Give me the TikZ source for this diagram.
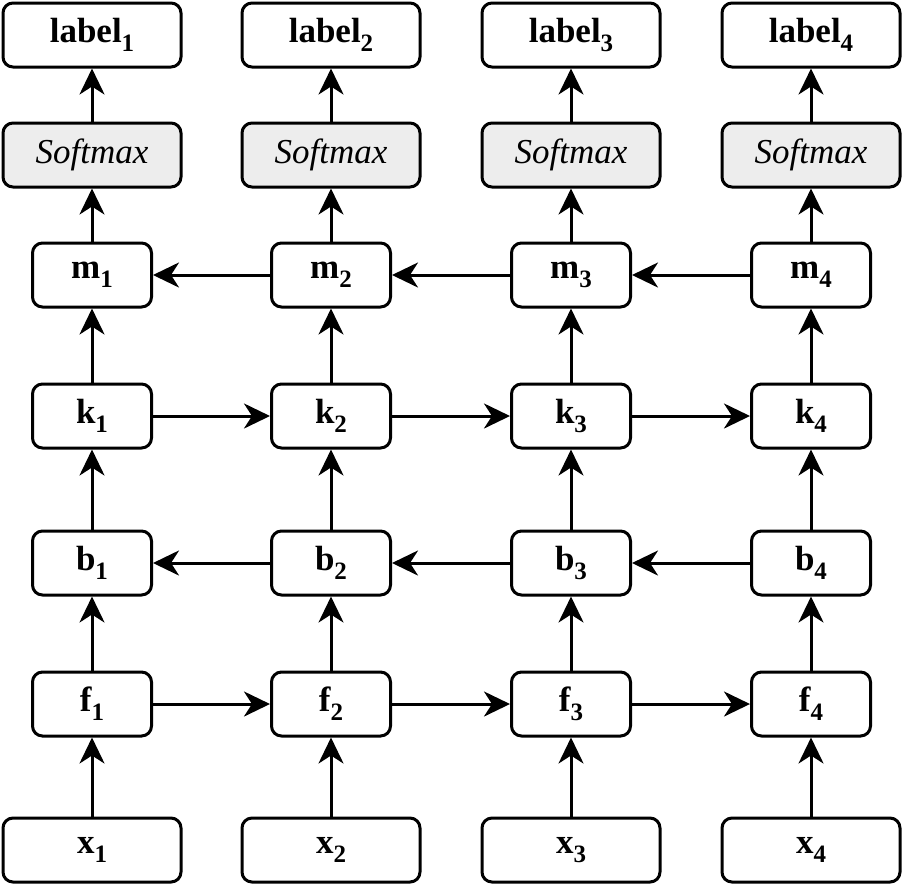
\documentclass[tikz,border=0pt]{standalone}
\usepackage{fontspec}
\setmainfont{Liberation Serif}
\usetikzlibrary{arrows.meta}

\newcommand{\idx}[1]{\raisebox{-4.5pt}{\fontsize{12.5}{13}\selectfont #1}}

\begin{document}
\begin{tikzpicture}[x=0.5pt, y=-0.5pt,
    box/.style={draw, line width=1.5pt, rounded corners=5pt, inner sep=0pt,
        minimum height=32pt, font=\fontsize{17.5}{20}\selectfont\bfseries},
    wide/.style={box, minimum width=89pt},
    narrow/.style={box, minimum width=59.5pt},
    smax/.style={wide, fill=black!7, font=\fontsize{17.5}{20}\selectfont\itshape},
    link/.style={line width=1.5pt, -{Stealth[length=13pt, width=12.5pt, inset=4pt]}}]

    \useasboundingbox (0,0) rectangle (903,885);

    % one column per time step
    \foreach \i/\x in {1/92, 2/331, 3/571, 4/811} {
        \node [wide] (x\i) at (\x,850) {x\idx{\i}};
        \node [narrow] (f\i) at (\x,704) {f\idx{\i}};
        \node [narrow] (b\i) at (\x,563) {b\idx{\i}};
        \node [narrow] (k\i) at (\x,416) {k\idx{\i}};
        \node [narrow] (m\i) at (\x,275) {m\idx{\i}};
        \node [smax] (s\i) at (\x,155) {Softmax};
        \node [wide] (l\i) at (\x,35) {label\idx{\i}};

        \draw [link] (x\i) -- (f\i);
        \draw [link] (f\i) -- (b\i);
        \draw [link] (b\i) -- (k\i);
        \draw [link] (k\i) -- (m\i);
        \draw [link] (m\i) -- (s\i);
        \draw [link] (s\i) -- (l\i);
    }

    % links between neighbouring steps
    \foreach \i/\j in {1/2, 2/3, 3/4} {
        \draw [link] (f\i) -- (f\j);
        \draw [link] (b\j) -- (b\i);
        \draw [link] (k\i) -- (k\j);
        \draw [link] (m\j) -- (m\i);
    }

\end{tikzpicture}
\end{document}
